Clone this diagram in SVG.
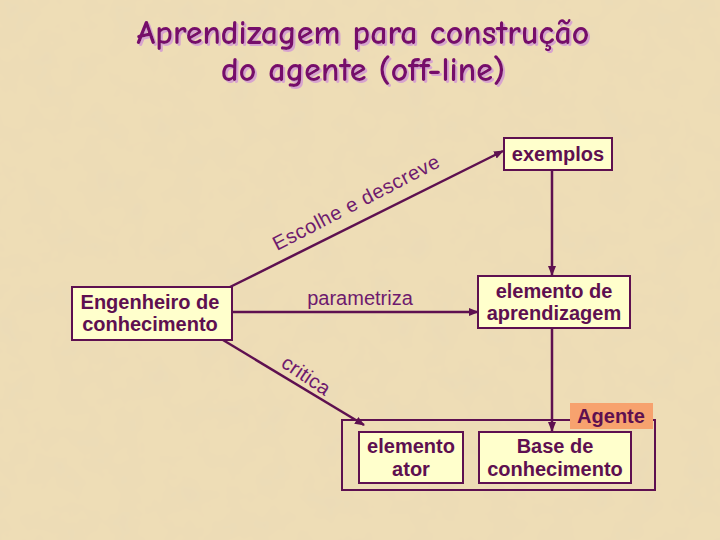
<svg xmlns="http://www.w3.org/2000/svg" width="720" height="540" viewBox="0 0 720 540">
<defs>
<filter id="paper" x="0" y="0" width="100%" height="100%">
<feTurbulence type="fractalNoise" baseFrequency="0.035" numOctaves="3" seed="4" result="n"/>
<feColorMatrix in="n" type="matrix" values="0 0 0 0 0.82  0 0 0 0 0.70  0 0 0 0 0.47  0 0 0 -1.2 0.75" result="c"/>
<feComposite in="c" in2="SourceGraphic" operator="over"/>
</filter>
<filter id="shadow" x="-5%" y="-20%" width="110%" height="140%">
<feDropShadow dx="2" dy="2" stdDeviation="0.4" flood-color="#D7A3CF" flood-opacity="1"/>
</filter>
<marker id="arr" viewBox="0 0 10 10" refX="9" refY="5" markerWidth="10" markerHeight="10" orient="auto" markerUnits="userSpaceOnUse">
<path d="M0,1 L10,5 L0,9 z" fill="#5E1050"/>
</marker>
<style>
.box{fill:#FFFFCC;stroke:#5E1050;stroke-width:2}
.bt{font-family:"Liberation Sans",Arial,sans-serif;font-weight:bold;font-size:20px;fill:#5E1050;text-anchor:middle}
.ln{stroke:#5E1050;stroke-width:2.5;fill:none}
.lbl{font-family:"Liberation Sans",Arial,sans-serif;font-size:20px;fill:#6E1A6E}
.title{font-family:"Comic Neue","Lato","DejaVu Sans",sans-serif;font-size:34px;font-weight:bold;fill:#76096A;text-anchor:middle}
</style>
</defs>
<rect width="720" height="540" fill="#EEDDB6" filter="url(#paper)"/>

<g id="title" filter="url(#shadow)">
<text class="title" x="363" y="44">Aprendizagem para construção</text>
<text class="title" x="363" y="81">do agente (off-line)</text>
</g>

<g id="agente">
<rect x="342" y="420" width="313" height="70" fill="none" stroke="#5E1050" stroke-width="2"/>
<rect x="570" y="403" width="83" height="26" fill="#F7A26E"/>
<text class="bt" x="611" y="423">Agente</text>
</g>

<g id="exemplos">
<rect class="box" x="504" y="138" width="108" height="32"/>
<text class="bt" x="558" y="161">exemplos</text>
</g>

<g id="elemento-aprendizagem">
<rect class="box" x="478" y="276" width="152" height="52"/>
<text class="bt" x="554" y="298">elemento de</text>
<text class="bt" x="554" y="320">aprendizagem</text>
</g>

<g id="engenheiro">
<rect class="box" x="72" y="287" width="160" height="53"/>
<text class="bt" x="150" y="309">Engenheiro de</text>
<text class="bt" x="150" y="331">conhecimento</text>
</g>

<g id="elemento-ator">
<rect class="box" x="359" y="432" width="104" height="51"/>
<text class="bt" x="411" y="453">elemento</text>
<text class="bt" x="411" y="476">ator</text>
</g>

<g id="base">
<rect class="box" x="479" y="432" width="152" height="51"/>
<text class="bt" x="555" y="453">Base de</text>
<text class="bt" x="555" y="476">conhecimento</text>
</g>

<g id="connectors">
<line class="ln" x1="230" y1="287" x2="503" y2="151" marker-end="url(#arr)"/>
<line class="ln" x1="233" y1="312" x2="478" y2="312" marker-end="url(#arr)"/>
<line class="ln" x1="223" y1="340" x2="364" y2="425" marker-end="url(#arr)"/>
<line class="ln" x1="552" y1="171" x2="552" y2="275" marker-end="url(#arr)"/>
<line class="ln" x1="552" y1="329" x2="552" y2="431" marker-end="url(#arr)"/>
<text class="lbl" font-size="20" letter-spacing="0.6" transform="translate(277,251) rotate(-27.3)">Escolhe e descreve</text>
<text class="lbl" x="360" y="305" text-anchor="middle">parametriza</text>
<text class="lbl" letter-spacing="0.3" transform="translate(280,366) rotate(34)">critica</text>
</g>
</svg>
